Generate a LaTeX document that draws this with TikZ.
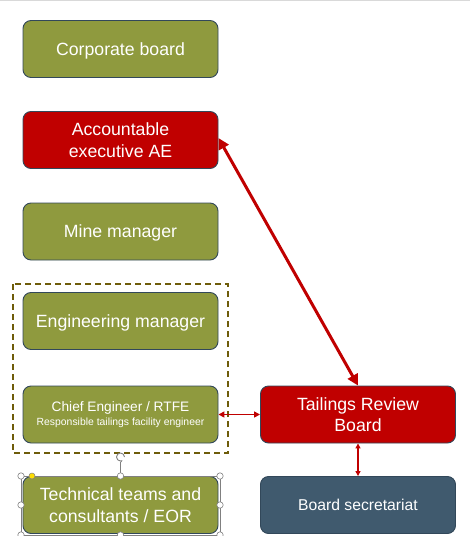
\documentclass[tikz,border=0pt]{standalone}
\usepackage{fontspec}
\setsansfont{Liberation Sans}
\usetikzlibrary{arrows.meta}

\definecolor{olivefill}{RGB}{143,154,62}
\definecolor{redfill}{RGB}{192,0,0}
\definecolor{slatefill}{RGB}{64,90,110}
\definecolor{edgeline}{RGB}{50,72,90}
\definecolor{framebrown}{RGB}{110,92,10}

\begin{document}
\begin{tikzpicture}[
    x=1pt, y=-1pt,
    every node/.style={font=\sffamily},
    box/.style={draw=edgeline, line width=0.9pt, rounded corners=8pt,
        minimum width=195pt, minimum height=57pt, inner sep=0pt,
        text=white, align=center, font=\sffamily\fontsize{17.7}{21.5}\selectfont},
    greenbox/.style={box, fill=olivefill},
    redbox/.style={box, fill=redfill},
    bluebox/.style={box, fill=slatefill},
    oneline/.style={text depth=0pt},
    link/.style={draw=redfill, fill=redfill},
    handle/.style={draw=gray, fill=white, line width=0.6pt}
]
\useasboundingbox (0,0) rectangle (470,536);

% slide edge
\draw[gray!30, line width=1.5pt] (0,0.5) -- (470,0.5);

% left column
\node[greenbox, oneline] (corp) at (120.5,49) {Corporate board};
\node[redbox] (ae) at (120.5,140) {Accountable\\executive AE};
\node[greenbox, oneline] (mine) at (120.5,231.5) {Mine manager};
\node[greenbox, oneline] (eng) at (120.5,321) {Engineering manager};
\node[greenbox, font=\sffamily\fontsize{13.7}{15}\selectfont] (chief) at (120.5,414.5)
    {Chief Engineer / RTFE\\[-1pt]{\fontsize{10.4}{12}\selectfont Responsible tailings facility engineer}};
\node[greenbox] (tech) at (120.5,505) {Technical teams and\\consultants / EOR};

% right column
\node[redbox] (trb) at (358,414.5) {Tailings Review\\Board};
\node[bluebox, oneline, font=\sffamily\fontsize{15.7}{19}\selectfont] (sec) at (358,505) {Board secretariat};

% dashed frame round the engineering group
\draw[framebrown, line width=1.6pt, dash pattern=on 6pt off 4pt] (13,284) rectangle (228,453);

% connectors
\draw[link, line width=3pt, {Triangle[length=11pt,width=11pt]}-{Triangle[length=11pt,width=11pt]}]
    ([yshift=2pt]ae.east) -- (trb.north);
\draw[link, line width=1.6pt, {Triangle[length=6pt,width=6pt]}-{Triangle[length=6pt,width=6pt]}]
    (chief.east) -- (trb.west);
\draw[link, line width=1.3pt, {Triangle[length=5pt,width=5pt]}-{Triangle[length=5pt,width=5pt]}]
    (trb.south) -- (sec.north);

% selection handles on the technical teams box
\draw[gray, line width=0.5pt] (21,476) rectangle (220,535);
\draw[gray, line width=0.6pt] (120.5,476) -- (120.5,462);
\draw[gray, line width=0.9pt, -{Stealth[length=2.5pt]}] (124.5,457) arc[start angle=0, end angle=300, radius=4pt];
\foreach \hx/\hy in {21/476, 120.5/476, 220/476, 21/505, 220/505, 21/535, 120.5/535, 220/535}
    \draw[handle] (\hx,\hy) circle (3.2pt);
\draw[draw=gray, fill=yellow!80!orange, line width=0.5pt] (32,476) circle (3pt);

\end{tikzpicture}
\end{document}
